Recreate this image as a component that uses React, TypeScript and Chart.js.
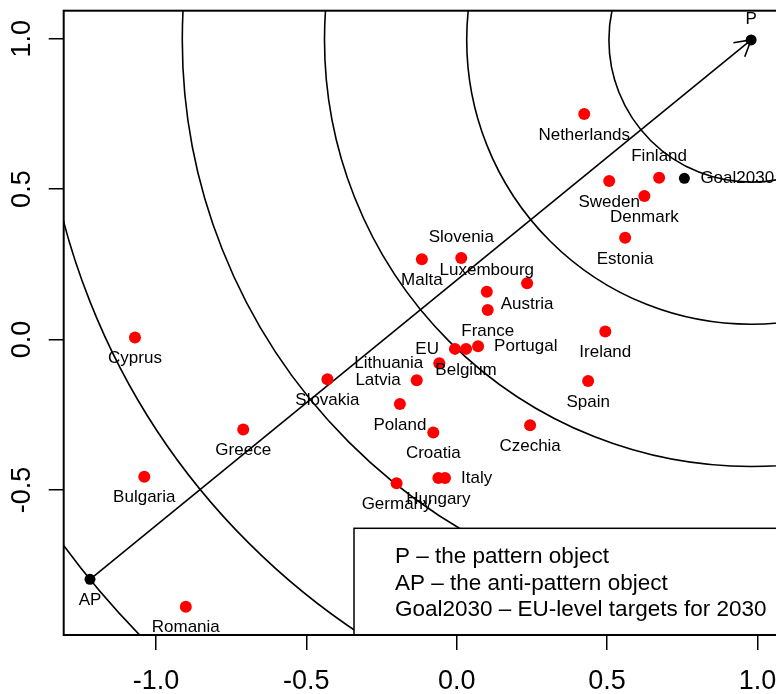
import React, { useEffect, useRef } from "react";
import { Chart, registerables } from "chart.js";

Chart.register(...registerables);

// ---- Data ----
const countries = [
  "Netherlands", "Finland", "Sweden", "Denmark", "Estonia", "Slovenia", "Malta",
  "Luxembourg", "Austria", "France", "EU", "Belgium", "Portugal", "Lithuania",
  "Latvia", "Slovakia", "Poland", "Croatia", "Czechia", "Hungary", "Italy",
  "Germany", "Ireland", "Spain", "Cyprus", "Greece", "Bulgaria", "Romania",
];
const xValues = [
  0.424, 0.673, 0.507, 0.624, 0.56, 0.015, -0.116,
  0.1, 0.234, 0.103, -0.006, 0.031, 0.071, -0.058,
  -0.133, -0.43, -0.189, -0.078, 0.244, -0.061, -0.039,
  -0.2, 0.494, 0.437, -1.07, -0.71, -1.039, -0.901,
];
const yValues = [
  0.75, 0.538, 0.527, 0.477, 0.338, 0.271, 0.267,
  0.159, 0.187, 0.098, -0.031, -0.031, -0.022, -0.079,
  -0.135, -0.132, -0.214, -0.309, -0.285, -0.46, -0.46,
  -0.478, 0.027, -0.138, 0.007, -0.299, -0.456, -0.888,
];
const labelSide = [
  "below", "above", "below", "below", "below", "above", "below",
  "above", "below", "below", "left", "below", "right", "left",
  "left", "below", "below", "below", "below", "below", "right",
  "below", "below", "below", "below", "below", "below", "below",
];

const refNames = ["P", "AP", "Goal2030"];
const refX = [0.979, -1.2195, 0.757];
const refY = [0.996, -0.797, 0.536];
const refSide = ["above", "below", "right"];

const xLimits = [-1.307, 1.067];
const yLimits = [-0.982, 1.093];
const tickStep = 0.5;
const circleCount = 6;

const legendLines = [
  "P \u2013 the pattern object",
  "AP \u2013 the anti-pattern object",
  "Goal2030 \u2013 EU-level targets for 2030",
];

const FONT = "'Liberation Sans', Arial, Helvetica, sans-serif";

const drawPlugin = {
  id: "patternDecor",
  beforeDatasetsDraw(chart: any) {
    const { ctx, chartArea, scales } = chart;
    const xs = scales.x;
    const ys = scales.y;
    const px = xs.getPixelForValue(refX[0]);
    const py = ys.getPixelForValue(refY[0]);
    const ax = xs.getPixelForValue(refX[1]);
    const ay = ys.getPixelForValue(refY[1]);
    const dist = Math.hypot(px - ax, py - ay);
    ctx.save();
    ctx.beginPath();
    ctx.rect(chartArea.left, chartArea.top, chartArea.right - chartArea.left, chartArea.bottom - chartArea.top);
    ctx.clip();
    ctx.strokeStyle = "#000";
    ctx.lineWidth = 1.6;
    for (let k = 1; k <= circleCount; k++) {
      ctx.beginPath();
      ctx.arc(px, py, (dist * k) / circleCount, 0, Math.PI * 2);
      ctx.stroke();
    }
    // arrow AP -> P
    ctx.beginPath();
    ctx.moveTo(ax, ay);
    ctx.lineTo(px, py);
    ctx.stroke();
    const ang = Math.atan2(ay - py, ax - px);
    const hl = 18;
    const spread = Math.PI / 6;
    ctx.beginPath();
    ctx.moveTo(px + hl * Math.cos(ang + spread), py + hl * Math.sin(ang + spread));
    ctx.lineTo(px, py);
    ctx.lineTo(px + hl * Math.cos(ang - spread), py + hl * Math.sin(ang - spread));
    ctx.stroke();
    ctx.restore();
  },
  afterDatasetsDraw(chart: any) {
    const { ctx, scales, chartArea } = chart;
    const xs = scales.x;
    const ys = scales.y;
    ctx.save();
    ctx.fillStyle = "#000";
    ctx.font = `17px ${FONT}`;
    const put = (name: string, x: number, y: number, side: string) => {
      const cx = xs.getPixelForValue(x);
      const cy = ys.getPixelForValue(y);
      ctx.textBaseline = "middle";
      if (side === "below") {
        ctx.textAlign = "center";
        ctx.fillText(name, cx, cy + 21);
      } else if (side === "above") {
        ctx.textAlign = "center";
        ctx.fillText(name, cx, cy - 21);
      } else if (side === "left") {
        ctx.textAlign = "right";
        ctx.fillText(name, cx - 16, cy);
      } else {
        ctx.textAlign = "left";
        ctx.fillText(name, cx + 16, cy);
      }
    };
    countries.forEach((c, i) => put(c, xValues[i], yValues[i], labelSide[i]));
    refNames.forEach((c, i) => put(c, refX[i], refY[i], refSide[i]));

    // legend box (bottom right)
    const bw = 423.6;
    const bh = 106.7;
    const bx = chartArea.right - bw;
    const by = chartArea.bottom - bh;
    ctx.fillStyle = "#fff";
    ctx.fillRect(bx, by, bw, bh);
    ctx.strokeStyle = "#000";
    ctx.lineWidth = 1.5;
    ctx.strokeRect(bx, by, bw, bh);
    ctx.fillStyle = "#000";
    ctx.font = `22.5px ${FONT}`;
    ctx.textAlign = "left";
    ctx.textBaseline = "middle";
    legendLines.forEach((t, i) => ctx.fillText(t, bx + 41, by + 28.4 + i * 26.7));

    // plot box
    ctx.lineWidth = 2;
    ctx.strokeRect(chartArea.left, chartArea.top, chartArea.right - chartArea.left, chartArea.bottom - chartArea.top);
    ctx.restore();
  },
};

export default function App() {
  const ref = useRef<HTMLCanvasElement | null>(null);
  useEffect(() => {
    if (!ref.current) return;
    const chart = new Chart(ref.current, {
      type: "scatter",
      data: {
        datasets: [
          {
            label: "countries",
            data: xValues.map((x, i) => ({ x, y: yValues[i] })),
            backgroundColor: "#ff0000",
            borderWidth: 0,
            pointRadius: 6,
          },
          {
            label: "reference",
            data: refX.map((x, i) => ({ x, y: refY[i] })),
            backgroundColor: "#000000",
            borderWidth: 0,
            pointRadius: 5.5,
          },
        ],
      },
      options: {
        animation: false,
        responsive: false,
        devicePixelRatio: 1,
        events: [],
        layout: { padding: { left: 0, top: 10.7, right: 22.4, bottom: 0 } },
        plugins: { legend: { display: false }, tooltip: { enabled: false } },
        scales: {
          x: {
            type: "linear",
            min: xLimits[0],
            max: xLimits[1],
            border: { display: false },
            grid: { display: true, drawOnChartArea: false, drawTicks: true, tickLength: 15, color: "#000", lineWidth: 1.5 },
            ticks: {
              stepSize: tickStep,
              includeBounds: false,
              autoSkip: false,
              maxRotation: 0,
              minRotation: 0,
              padding: 15,
              color: "#000",
              font: { family: FONT, size: 27 },
              callback: (v: any) => Number(v).toFixed(1),
            },
            afterFit: (s: any) => {
              s.height = 59;
              s.paddingLeft = 0;
              s.paddingRight = 0;
            },
          },
          y: {
            type: "linear",
            min: yLimits[0],
            max: yLimits[1],
            border: { display: false },
            grid: { display: true, drawOnChartArea: false, drawTicks: true, tickLength: 15, color: "#000", lineWidth: 1.5 },
            ticks: {
              stepSize: tickStep,
              includeBounds: false,
              autoSkip: false,
              minRotation: 90,
              maxRotation: 90,
              crossAlign: "center",
              padding: 2.4,
              color: "#000",
              font: { family: FONT, size: 27 },
              callback: (v: any) => Number(v).toFixed(1),
            },
            afterFit: (s: any) => {
              s.width = 63.7;
              s.paddingTop = 0;
              s.paddingBottom = 0;
            },
          },
        },
      },
      plugins: [drawPlugin],
    } as any);
    return () => chart.destroy();
  }, []);
  return (
    <div
      style={{
        position: "fixed",
        left: 0,
        top: 0,
        width: 776,
        height: 694,
        overflow: "hidden",
        background: "#fff",
      }}
    >
      <canvas ref={ref} width={800} height={694} style={{ display: "block" }} />
    </div>
  );
}
